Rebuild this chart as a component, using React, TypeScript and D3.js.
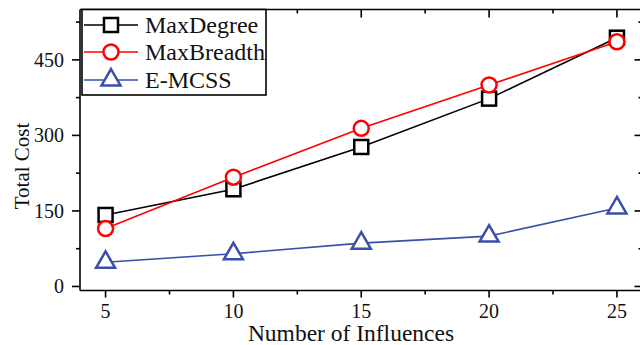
import React from "react";
import * as d3 from "d3";

const xValues = [5, 10, 15, 20, 25];
const maxDegree = [142, 193, 277, 373, 494];
const maxBreadth = [115, 217, 314, 400, 486];
const emcss = [48, 65, 86, 100, 156];
const seriesNames = ["MaxDegree", "MaxBreadth", "E-MCSS"];
const xTicks = [5, 10, 15, 20, 25];
const xMinor = [7.5, 12.5, 17.5, 22.5];
const yTicks = [0, 150, 300, 450];
const yMinor = [75, 225, 375, 525];

const W = 640, H = 345;
const FONT = "'Liberation Serif', 'Times New Roman', serif";

export default function App() {
  const x = d3.scaleLinear().domain([4, 26]).range([80, 642.5]);
  const y = d3.scaleLinear().domain([-8, 550]).range([290.5, 9.5]);
  const [x0, x1] = x.range();
  const [yb, yt] = y.range();

  const series = [
    { name: seriesNames[0], values: maxDegree, color: "#000000", marker: "square" },
    { name: seriesNames[1], values: maxBreadth, color: "#ff0000", marker: "circle" },
    { name: seriesNames[2], values: emcss, color: "#3a4fa8", marker: "triangle" },
  ];

  const line = d3.line<[number, number]>().x((d) => x(d[0])).y((d) => y(d[1]));

  const marker = (type: string, cx: number, cy: number, color: string, key: string) => {
    if (type === "square") {
      const s = 14;
      return <rect key={key} x={cx - s / 2} y={cy - s / 2} width={s} height={s} fill="#fff" stroke={color} strokeWidth={2.5} />;
    }
    if (type === "circle") {
      return <circle key={key} cx={cx} cy={cy} r={7.5} fill="#fff" stroke={color} strokeWidth={2.5} />;
    }
    const side = 19;
    const h = (side * Math.sqrt(3)) / 2;
    const p = `M${cx},${cy - (2 * h) / 3}L${cx + side / 2},${cy + h / 3}L${cx - side / 2},${cy + h / 3}Z`;
    return <path key={key} d={p} fill="#fff" stroke={color} strokeWidth={2.5} strokeLinejoin="miter" />;
  };

  const legendYs = [25, 52, 80];

  return (
    <svg width={W} height={H} style={{ position: "absolute", left: 0, top: 0, background: "#fff" }} fontFamily={FONT}>
      <rect x={0} y={0} width={W} height={H} fill="#fff" />
      {/* frame */}
      <g stroke="#000" strokeWidth={1.6} fill="none">
        <line x1={x0} y1={yb} x2={x1} y2={yb} />
        <line x1={x0} y1={yt} x2={x1} y2={yt} />
        <line x1={x0} y1={yb} x2={x0} y2={yt} />
        <line x1={x1} y1={yb} x2={x1} y2={yt} />
        {xTicks.map((t) => (
          <g key={"xt" + t}>
            <line x1={x(t)} x2={x(t)} y1={yb} y2={yb + 7} />
            <line x1={x(t)} x2={x(t)} y1={yt} y2={yt + 8} />
          </g>
        ))}
        {xMinor.map((t) => (
          <g key={"xm" + t}>
            <line x1={x(t)} x2={x(t)} y1={yb} y2={yb + 4} />
            <line x1={x(t)} x2={x(t)} y1={yt} y2={yt + 4} />
          </g>
        ))}
        {yTicks.map((t) => (
          <g key={"yt" + t}>
            <line x1={x0 - 8} x2={x0} y1={y(t)} y2={y(t)} />
            <line x1={x1 - 8} x2={x1} y1={y(t)} y2={y(t)} />
          </g>
        ))}
        {yMinor.map((t) => (
          <g key={"ym" + t}>
            <line x1={x0 - 4} x2={x0} y1={y(t)} y2={y(t)} />
            <line x1={x1 - 4} x2={x1} y1={y(t)} y2={y(t)} />
          </g>
        ))}
      </g>
      {/* tick labels */}
      <g fontSize={20} fill="#111">
        {xTicks.map((t) => (
          <text key={"xl" + t} x={x(t)} y={318} textAnchor="middle">{t}</text>
        ))}
        {yTicks.map((t) => (
          <text key={"yl" + t} x={64} y={y(t)} dy="0.34em" textAnchor="end">{t}</text>
        ))}
      </g>
      {/* axis titles */}
      <text x={351} y={341} textAnchor="middle" fontSize={23.5} fill="#111">Number of Influences</text>
      <text transform={`translate(29,166) rotate(-90)`} textAnchor="middle" fontSize={21} fill="#111">Total Cost</text>
      {/* series */}
      {series.map((s) => (
        <g key={s.name}>
          <path d={line(s.values.map((v, i) => [xValues[i], v] as [number, number])) || ""} fill="none" stroke={s.color} strokeWidth={1.6} />
          {s.values.map((v, i) => marker(s.marker, x(xValues[i]), y(v), s.color, s.name + i))}
        </g>
      ))}
      {/* legend */}
      <rect x={82} y={yt} width={184} height={85.5} fill="#fff" stroke="#000" strokeWidth={1.6} />
      {series.map((s, i) => (
        <g key={"lg" + s.name}>
          <line x1={84} x2={138} y1={legendYs[i]} y2={legendYs[i]} stroke={s.color} strokeWidth={1.6} />
          {marker(s.marker, 111, legendYs[i], s.color, "lm" + i)}
          <text x={145} y={legendYs[i]} dy="0.34em" fontSize={24} fill="#111">{s.name}</text>
        </g>
      ))}
    </svg>
  );
}
